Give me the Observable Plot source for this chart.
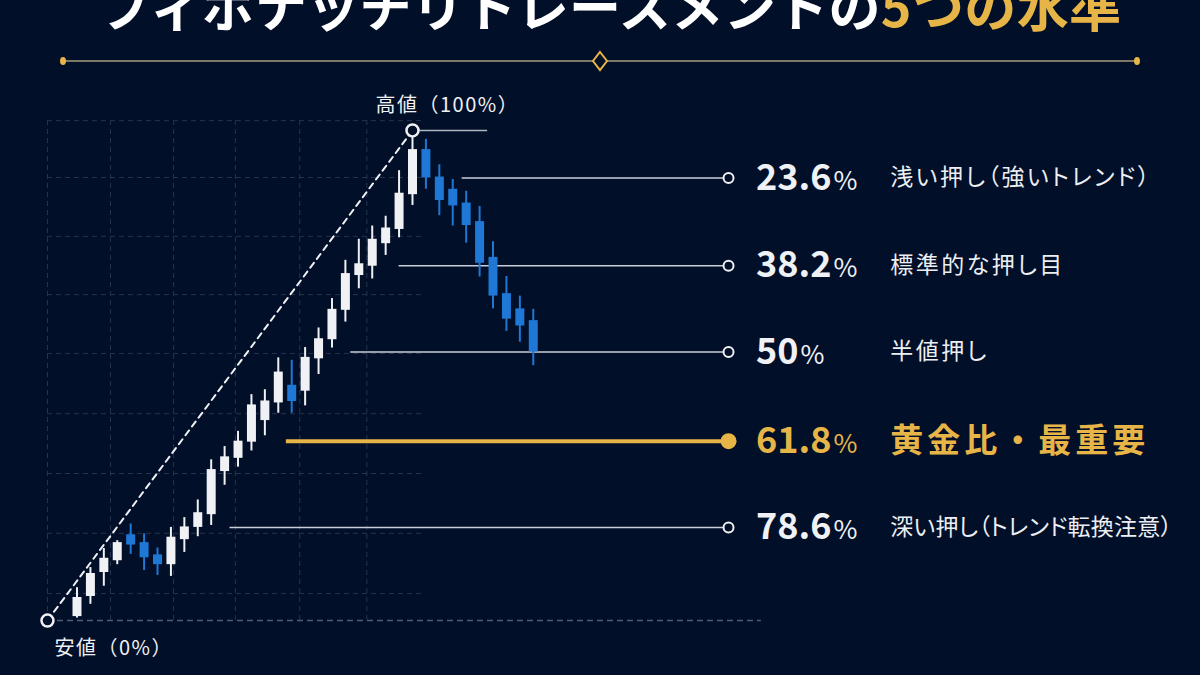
<!DOCTYPE html>
<html><head><meta charset="utf-8">
<script src="https://cdn.jsdelivr.net/npm/d3@7"></script>
<script src="https://cdn.jsdelivr.net/npm/@observablehq/plot@0.6"></script>
<style>
html,body{margin:0;padding:0;background:#010f28;overflow:hidden;width:1200px;height:675px;}
#header{position:relative;width:1200px;height:80px;overflow:hidden;}
#title{position:absolute;left:0;top:-21px;width:1200px;text-align:center;font-family:"Noto Sans CJK JP";font-weight:700;font-size:52px;line-height:52px;color:#ffffff;white-space:nowrap;padding-left:20px;box-sizing:border-box;letter-spacing:0.4px;}
#title .gold{color:#e7b547;}
#divider{position:absolute;left:0;top:0;}
#chart svg{display:block;}
</style>
</head><body>
<div id="header">
  <div id="title">フィボナッチリトレースメントの<span class="gold">5つの水準</span></div>
  <svg id="divider" width="1200" height="80">
    <line x1="63" y1="61" x2="1137" y2="61" stroke="#7d7766" stroke-width="2"/>
    <ellipse cx="63" cy="61" rx="3" ry="4" fill="#e7b547"/>
    <ellipse cx="1137" cy="61" rx="3" ry="4" fill="#e7b547"/>
    <path d="M600 52 L607 61 L600 70 L593 61 Z" fill="#010f28" stroke="#e7b547" stroke-width="2"/>
  </svg>
</div>
<div id="chart"></div>
<script>
// ---- data ----
const candleOpen  = [0.8,4.9,9.8,12.2,17.5,15.9,13.4,11.4,16.5,19.0,21.6,30.4,33.1,36.4,40.8,44.4,48.0,46.8,53.4,57.3,63.3,70.4,72.3,76.9,79.8,86.9,96.1,90.5,88.0,85.2,81.4,74.1,66.7,63.6,61.2];
const candleClose = [4.7,9.6,12.7,15.9,15.4,12.8,11.4,17.0,19.1,22.0,30.8,33.4,36.6,44.0,44.8,50.7,44.7,53.7,57.5,63.5,70.8,72.8,77.8,80.1,87.2,96.1,90.3,85.7,84.6,80.6,72.9,66.2,61.5,60.1,54.8];
const candleHigh  = [6.7,10.8,14.7,16.3,19.7,17.7,14.8,19.0,21.0,24.6,32.8,35.5,38.6,46.1,47.1,53.6,53.1,55.7,59.7,65.7,73.5,77.8,80.5,82.5,91.8,100,98.2,93.0,90.0,87.6,84.5,77.3,70.2,66.2,63.5];
const candleLow   = [0.5,3.3,7.0,11.4,13.5,10.2,9.2,9.0,13.9,17.1,19.4,27.6,31.3,34.6,37.7,42.3,42.3,43.8,50.2,55.6,60.9,67.7,69.7,74.5,78.1,84.7,88.0,82.6,80.5,77.0,70.1,63.6,59.0,56.8,52.0];

const levelLabels = ["23.6%","38.2%","50%","61.8%","78.6%"];
const levelNames  = ["浅い押し（強いトレンド）","標準的な押し目","半値押し","黄金比・最重要","深い押し（トレンド転換注意）"];
const levelPrices = [90.3, 72.4, 54.8, 36.6, 19.0];
const levelStartBar = [29.7, 25.0, 21.4, 16.6, 12.4];
const keyLevel = "61.8%";

const swingBars   = [-1.2, 26];
const swingPrices = [0, 100];
const swingLabels = ["安値（0%）", "高値（100%）"];

const gridPrices = [5.5, 17.8, 30.0, 42.2, 54.5, 66.5, 78.4, 90.4, 102.0];
const gridBars   = [-1.2, 3.5, 8.2, 12.8, 17.6, 22.6];

// ---- layout / style constants ----
const W = 1200, H = 595;
const BG = "#010f28", GOLD = "#e7b547", WHITE = "#f0f1f4", BLUE = "#1f78d6";
const LINE_END = 49.55, PCT_X = 51.6, NAME_X = 61.6, GRID_RIGHT = 27, GRID_TOP = 102, BASE_RIGHT = 52, HIGH_LINE_END = 31.6;
const NAME_MAX_W = 282;
const FONT = "Noto Sans CJK JP";

const bars = d3.range(candleOpen.length);
const barX = i => i + 1;
const isUp = i => candleClose[i] >= candleOpen[i];
const lv = d3.range(levelLabels.length);
const isKey = i => levelLabels[i] === keyLevel;

const plot = Plot.plot({
  width: W, height: H,
  marginTop: 0, marginBottom: 0, marginLeft: 0, marginRight: 0,
  x: {domain: [-4.70, 84.72], axis: null},
  y: {domain: [-11.22, 110.2], axis: null},
  style: {background: "transparent", overflow: "visible"},
  marks: [
    // grid
    Plot.ruleY(gridPrices, {x1: gridBars[0], x2: GRID_RIGHT, stroke: "#27344e", strokeWidth: 1, strokeDasharray: "5,4"}),
    Plot.ruleX(gridBars, {y1: 0, y2: GRID_TOP, stroke: "#27344e", strokeWidth: 1, strokeDasharray: "5,4"}),
    // baseline
    Plot.ruleY([swingPrices[0]], {x1: swingBars[0], x2: BASE_RIGHT, stroke: "#515b74", strokeWidth: 1.5, strokeDasharray: "6,4"}),
    // diagonal swing line
    Plot.line(d3.range(2), {x: i => swingBars[i], y: i => swingPrices[i], stroke: WHITE, strokeWidth: 2, strokeDasharray: "6,5"}),
    // high line
    Plot.ruleY([swingPrices[1]], {x1: swingBars[1], x2: HIGH_LINE_END, stroke: "#cfd3dc", strokeWidth: 1.5, strokeOpacity: 0.85}),
    // level lines
    Plot.ruleY(lv, {filter: i => !isKey(i), y: i => levelPrices[i], x1: i => levelStartBar[i], x2: LINE_END, stroke: "#c9ced8", strokeWidth: 1.5}),
    Plot.ruleY(lv, {filter: isKey, y: i => levelPrices[i], x1: i => levelStartBar[i], x2: LINE_END, stroke: GOLD, strokeWidth: 4}),
    // candles
    Plot.ruleX(bars, {x: barX, y1: i => candleLow[i], y2: i => candleHigh[i], stroke: i => isUp(i) ? WHITE : BLUE, strokeWidth: 2}),
    Plot.ruleX(bars, {x: barX, y1: i => candleOpen[i], y2: i => candleClose[i], stroke: i => isUp(i) ? WHITE : BLUE, strokeWidth: 9}),
    // level end circles
    Plot.dot(lv, {filter: i => !isKey(i), x: LINE_END, y: i => levelPrices[i], r: 5, fill: BG, stroke: WHITE, strokeWidth: 2}),
    Plot.dot(lv, {filter: isKey, x: LINE_END, y: i => levelPrices[i], r: 8, fill: GOLD}),
    // swing circles
    Plot.dot(d3.range(2), {x: i => swingBars[i], y: i => swingPrices[i], r: 6, fill: BG, stroke: WHITE, strokeWidth: 2.5}),
    // swing labels
    Plot.text([0], {x: i => swingBars[i], y: i => swingPrices[i], text: i => swingLabels[i], textAnchor: "start", dx: 7, dy: 28, fill: WHITE, fontSize: 20, fontFamily: FONT}),
    Plot.text([1], {x: i => swingBars[i], y: i => swingPrices[i], text: i => swingLabels[i], textAnchor: "start", dx: -37, dy: -25, fill: WHITE, fontSize: 20, fontFamily: FONT}),
    // level texts
    Plot.text(lv, {filter: i => !isKey(i), x: PCT_X, y: i => levelPrices[i], text: i => levelLabels[i], textAnchor: "start", fill: WHITE, fontSize: 36, fontWeight: 700, fontFamily: FONT}),
    Plot.text(lv, {filter: isKey, x: PCT_X, y: i => levelPrices[i], text: i => levelLabels[i], textAnchor: "start", fill: GOLD, fontSize: 36, fontWeight: 700, fontFamily: FONT}),
    Plot.text(lv, {filter: i => !isKey(i), x: NAME_X, y: i => levelPrices[i], text: i => levelNames[i], textAnchor: "start", fill: "#eceef2", fontSize: 23, fontWeight: 400, fontFamily: FONT}),
    Plot.text(lv, {filter: isKey, x: NAME_X, y: i => levelPrices[i], text: i => levelNames[i], textAnchor: "start", fill: GOLD, fontSize: 33, fontWeight: 700, fontFamily: FONT})
  ]
});

document.getElementById("chart").appendChild(plot);

// post-styling of level texts: smaller % sign, proportional kana in names, fit long names
plot.querySelectorAll("text").forEach(t => {
  const s = t.textContent;
  if (levelLabels.includes(s)) {
    t.textContent = s.slice(0, -1);
    const ts = document.createElementNS("http://www.w3.org/2000/svg", "tspan");
    ts.textContent = "%";
    ts.setAttribute("dx", "2");
    ts.style.fontSize = "26px";
    ts.style.fontWeight = "400";
    t.appendChild(ts);
  } else if (levelNames.includes(s)) {
    if (s === levelNames[levelLabels.indexOf(keyLevel)]) {
      t.style.letterSpacing = "4px";
    } else {
      t.style.fontFeatureSettings = '"palt"';
      let ls = 2.5;
      t.style.letterSpacing = ls + "px";
      const w = t.getComputedTextLength();
      if (w > NAME_MAX_W) {
        ls = Math.max(0, ls - (w - NAME_MAX_W) / s.length);
        t.style.letterSpacing = ls + "px";
      }
    }
  } else if (swingLabels.includes(s)) {
    t.style.letterSpacing = "1.5px";
  }
});
</script>
</body></html>
